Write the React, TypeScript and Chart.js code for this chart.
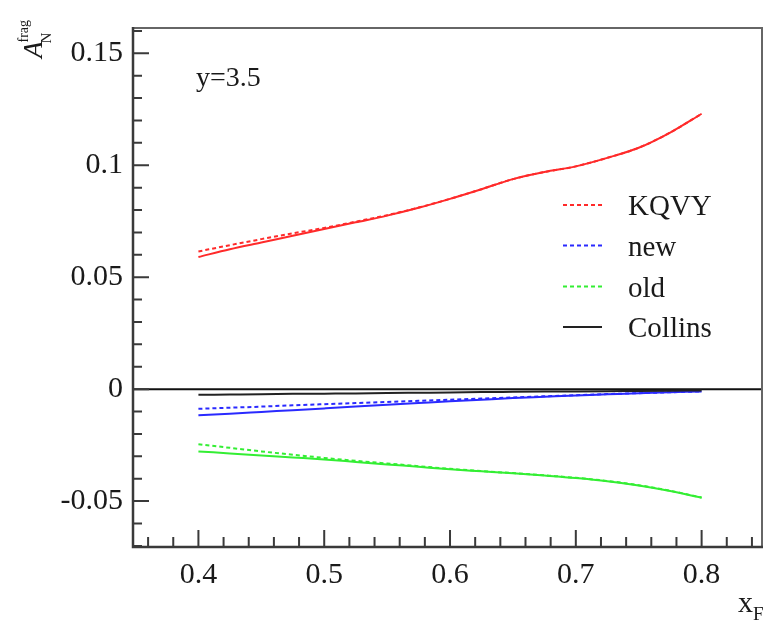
import React, { useEffect, useRef } from "react";
import { Chart, registerables } from "chart.js";

Chart.register(...registerables);

const xValues = [0.4, 0.425, 0.45, 0.475, 0.5, 0.525, 0.55, 0.575, 0.6, 0.625, 0.65, 0.675, 0.7, 0.725, 0.75, 0.775, 0.8];
const kqvySolid = [0.059, 0.0625, 0.0655, 0.0685, 0.0715, 0.0745, 0.0775, 0.081, 0.085, 0.0893, 0.0938, 0.097, 0.0995, 0.1033, 0.1078, 0.1146, 0.123];
const kqvyDashed = [0.0615, 0.0643, 0.067, 0.0696, 0.072, 0.0748, 0.0777, 0.0811, 0.085, 0.0893, 0.0938, 0.097, 0.0995, 0.1033, 0.1078, 0.1146, 0.123];
const newSolid = [-0.0117, -0.011, -0.0102, -0.0094, -0.0086, -0.0078, -0.007, -0.0062, -0.0054, -0.0047, -0.004, -0.0034, -0.0028, -0.0023, -0.0018, -0.0014, -0.001];
const newDashed = [-0.0088, -0.0083, -0.0078, -0.0072, -0.0067, -0.0062, -0.0057, -0.0052, -0.0047, -0.0042, -0.0037, -0.0032, -0.0027, -0.0022, -0.0018, -0.0014, -0.001];
const oldSolid = [-0.0278, -0.0287, -0.0296, -0.0305, -0.0314, -0.0325, -0.0336, -0.0347, -0.0358, -0.0367, -0.0376, -0.0386, -0.0397, -0.0411, -0.043, -0.0455, -0.0485];
const oldDashed = [-0.0246, -0.0262, -0.0278, -0.0293, -0.0307, -0.032, -0.0332, -0.0344, -0.0356, -0.0366, -0.0375, -0.0385, -0.0396, -0.041, -0.0429, -0.0454, -0.0484];
const collins = [-0.0025, -0.0024, -0.0023, -0.0021, -0.002, -0.0019, -0.0017, -0.0016, -0.0015, -0.0013, -0.0012, -0.0011, -0.001, -0.0009, -0.0008, -0.0007, -0.0006];

const xTicks = [0.4, 0.5, 0.6, 0.7, 0.8];
const yTicks = [-0.05, 0, 0.05, 0.1, 0.15];
const legendLabels = ["KQVY", "new", "old", "Collins"];
const legendColors = ["#ff2a2a", "#2a2aff", "#33ee33", "#222222"];
const annotation = "y=3.5";

const FONT = '"Liberation Serif", "Times New Roman", serif';
const TEXT = "#1a1a1a";

const pts = (ys: number[]) => xValues.map((x, i) => ({ x, y: ys[i] }));

const decor = {
  id: "decor",
  beforeDatasetsDraw(chart: any) {
    const { ctx, chartArea: a, scales } = chart;
    const y0 = scales.y.getPixelForValue(0);
    ctx.save();
    ctx.strokeStyle = "#111";
    ctx.lineWidth = 2;
    ctx.beginPath();
    ctx.moveTo(a.left, y0);
    ctx.lineTo(a.right, y0);
    ctx.stroke();
    ctx.restore();
  },
  afterDraw(chart: any) {
    const { ctx, chartArea: a, scales } = chart;
    const xs = scales.x;
    const ys = scales.y;
    ctx.save();
    // frame
    ctx.strokeStyle = "#666";
    ctx.lineWidth = 2;
    ctx.beginPath();
    ctx.moveTo(a.left, a.top);
    ctx.lineTo(a.right, a.top);
    ctx.lineTo(a.right, a.bottom);
    ctx.stroke();
    ctx.strokeStyle = "#3a3a3a";
    ctx.lineWidth = 2.5;
    ctx.beginPath();
    ctx.moveTo(a.left, a.top - 1);
    ctx.lineTo(a.left, a.bottom);
    ctx.lineTo(a.right + 1, a.bottom);
    ctx.stroke();
    // ticks
    ctx.lineWidth = 2;
    ctx.strokeStyle = "#3a3a3a";
    ctx.beginPath();
    for (let i = -7; i <= 16; i++) {
      const v = i / 100;
      if (v < ys.min || v > ys.max) continue;
      const p = ys.getPixelForValue(v);
      const len = i % 5 === 0 ? 16 : 9;
      ctx.moveTo(a.left, p);
      ctx.lineTo(a.left + len, p);
    }
    for (let i = 34; i <= 86; i += 2) {
      const v = i / 100;
      if (v < xs.min || v > xs.max) continue;
      const p = xs.getPixelForValue(v);
      const len = i % 10 === 0 ? 17 : 10;
      ctx.moveTo(p, a.bottom);
      ctx.lineTo(p, a.bottom - len);
    }
    ctx.stroke();

    // legend
    const lx0 = 563, lx1 = 602, tx = 628;
    const rows = [205, 245.5, 286.5, 327];
    ctx.font = `29px ${FONT}`;
    ctx.textBaseline = "alphabetic";
    ctx.textAlign = "left";
    legendLabels.forEach((lab, i) => {
      ctx.strokeStyle = legendColors[i];
      ctx.lineWidth = 2;
      ctx.setLineDash(i === 3 ? [] : [4, 3]);
      ctx.beginPath();
      ctx.moveTo(lx0, rows[i]);
      ctx.lineTo(lx1, rows[i]);
      ctx.stroke();
      ctx.setLineDash([]);
      ctx.fillStyle = TEXT;
      ctx.fillText(lab, tx, rows[i] + 10);
    });

    // annotation
    ctx.fillStyle = TEXT;
    ctx.font = `28px ${FONT}`;
    ctx.fillText(annotation, 196, 86);

    // x axis title
    ctx.font = `30px ${FONT}`;
    ctx.fillText("x", 738, 612);
    ctx.font = `19px ${FONT}`;
    ctx.fillText("F", 753, 620);

    // y axis title (rotated)
    ctx.save();
    ctx.translate(42, 58);
    ctx.rotate(-Math.PI / 2);
    ctx.font = `italic 27px ${FONT}`;
    ctx.fillText("A", 0, 0);
    const aw = ctx.measureText("A").width;
    ctx.font = `15px ${FONT}`;
    ctx.fillText("N", aw - 2, 9);
    ctx.font = `14px ${FONT}`;
    ctx.fillText("frag", aw - 1, -14);
    ctx.restore();

    ctx.restore();
  },
};

export default function App() {
  const ref = useRef<HTMLCanvasElement | null>(null);
  useEffect(() => {
    if (!ref.current) return;
    const mk = (label: string, data: number[], color: string, dashed: boolean) => ({
      label,
      data: pts(data),
      borderColor: color,
      backgroundColor: color,
      borderWidth: 2,
      borderDash: dashed ? [4, 3] : [],
      pointRadius: 0,
      cubicInterpolationMode: "monotone",
      fill: false,
    });
    const chart = new Chart(ref.current, {
      type: "line",
      data: {
        datasets: [
          mk("Collins", collins, "#222222", false),
          mk("old solid", oldSolid, "#33ee33", false),
          mk("old", oldDashed, "#33ee33", true),
          mk("new solid", newSolid, "#2a2aff", false),
          mk("new", newDashed, "#2a2aff", true),
          mk("KQVY solid", kqvySolid, "#ff2a2a", false),
          mk("KQVY", kqvyDashed, "#ff2a2a", true),
        ] as any,
      },
      options: {
        animation: false,
        responsive: false,
        devicePixelRatio: 1,
        layout: { padding: { top: 20, right: 1, left: 0, bottom: 0 } },
        plugins: { legend: { display: false }, tooltip: { enabled: false } },
        scales: {
          x: {
            type: "linear",
            min: 0.348,
            max: 0.848,
            grid: { display: false, drawTicks: false },
            border: { display: false },
            afterBuildTicks: (s: any) => {
              s.ticks = xTicks.map((v) => ({ value: v }));
            },
            afterFit: (s: any) => {
              s.height = 77;
            },
            ticks: {
              padding: 10,
              color: TEXT,
              font: { family: FONT, size: 30 },
              maxRotation: 0,
              callback: (v: any) => String(v),
            },
          },
          y: {
            type: "linear",
            min: -0.0705,
            max: 0.1613,
            grid: { display: false, drawTicks: false },
            border: { display: false },
            afterBuildTicks: (s: any) => {
              s.ticks = yTicks.map((v) => ({ value: v }));
            },
            afterFit: (s: any) => {
              s.width = 133;
            },
            ticks: {
              padding: 10,
              color: TEXT,
              font: { family: FONT, size: 30 },
              callback: (v: any) => String(v),
            },
          },
        },
      } as any,
      plugins: [decor],
    });
    return () => chart.destroy();
  }, []);
  return (
    <div style={{ position: "absolute", left: 0, top: 0, width: 763, height: 624, background: "#fff" }}>
      <canvas ref={ref} width={763} height={624} style={{ display: "block" }} />
    </div>
  );
}
